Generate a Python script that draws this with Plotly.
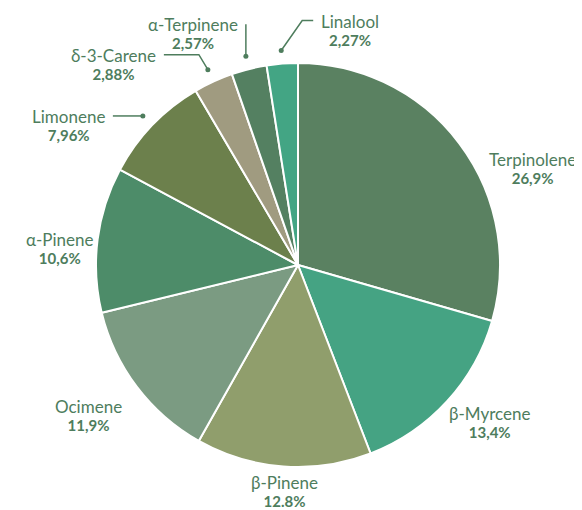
import math

import plotly.graph_objects as go

labels = ["Terpinolene", "β-Myrcene", "β-Pinene", "Ocimene", "α-Pinene",
          "Limonene", "δ-3-Carene", "α-Terpinene", "Linalool"]
values = [26.9, 13.4, 12.8, 11.9, 10.6, 7.96, 2.88, 2.57, 2.27]
value_text = ["26,9%", "13,4%", "12.8%", "11,9%", "10,6%",
              "7,96%", "2,88%", "2,57%", "2,27%"]
colors = ["#5a8161", "#45a383", "#909e6c", "#7b9b82", "#4d8c69",
          "#6c804c", "#a09b80", "#548061", "#43a584"]

TEXT = "#4e7d5d"
FONT = "Lato"
W, H = 582, 510
# the page body adds an 8px margin, so the figure is drawn 8px up-left
CX, CY, R = 290, 257, 202

# label placement: big labels sit on a ring, small ones get a leader line
label_nudge = {"Terpinolene": (40, 50), "β-Myrcene": (12, -8), "β-Pinene": (4, -17),
               "Ocimene": (-15, 3), "α-Pinene": (4, 14)}
leaders = {
    "Limonene": ([(0, 0), (-30, 0)], "right"),
    "δ-3-Carene": ([(0, 0), (-9, -15), (-44, -15)], "right"),
    "α-Terpinene": ([(0, 0), (0, -32)], "right"),
    "Linalool": ([(0, 0), (21, -30), (32, -30)], "left"),
}


def point(theta, r):
    return CX + r * math.sin(theta), CY - r * math.cos(theta)


total = sum(values)
mids = []
cum = 0
for v in values:
    mids.append(2 * math.pi * (cum + v / 2) / total)
    cum += v

fig = go.Figure()
fig.add_trace(go.Pie(
    labels=labels, values=values, sort=False, direction="clockwise", rotation=0,
    marker=dict(colors=colors, line=dict(color="white", width=2)),
    textinfo="none", hoverinfo="label", showlegend=False,
    domain=dict(x=[(CX - R) / W, (CX + R) / W], y=[1 - (CY + R) / H, 1 - (CY - R) / H]),
))

annotations = []
for name, pct, theta in zip(labels, value_text, mids):
    # small base font keeps the two lines close together
    text = (f"<span style='font-size:17px'>{name}</span><br>"
            f"<b><span style='font-size:15px'>{pct}</span></b>")
    if name in leaders:
        path, side = leaders[name]
        dx, dy = point(theta, R * 1.065)
        xs = [dx + p[0] for p in path]
        ys = [dy + p[1] for p in path]
        fig.add_trace(go.Scatter(x=xs, y=ys, mode="lines", line=dict(color=TEXT, width=1.5),
                                 hoverinfo="skip", showlegend=False))
        fig.add_trace(go.Scatter(x=[dx], y=[dy], mode="markers", marker=dict(color=TEXT, size=5),
                                 hoverinfo="skip", showlegend=False))
        gap = 6 if side == "left" else -6
        annotations.append(dict(x=xs[-1] + gap, y=ys[-1] + 9, xref="x", yref="y", text=text,
                                showarrow=False, xanchor=side, yanchor="middle", align="center"))
    else:
        x, y = point(theta, 244)
        nx, ny = label_nudge[name]
        annotations.append(dict(x=x + nx, y=y + ny, xref="x", yref="y", text=text,
                                showarrow=False, xanchor="center", yanchor="middle", align="center"))

fig.update_layout(
    width=W, height=H,
    margin=dict(l=0, r=0, t=0, b=0),
    paper_bgcolor="white", plot_bgcolor="white",
    font=dict(family=FONT, size=14, color=TEXT),
    xaxis=dict(range=[0, W], visible=False, fixedrange=True),
    yaxis=dict(range=[H, 0], visible=False, fixedrange=True),
    annotations=annotations,
)

fig.write_html("out.html")
